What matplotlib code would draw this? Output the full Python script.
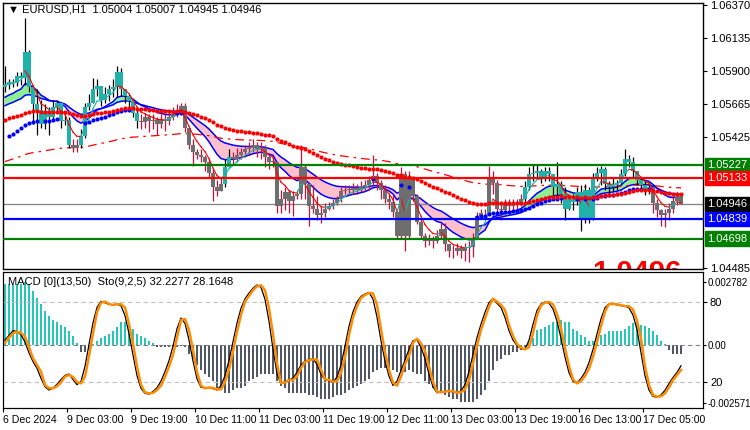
import matplotlib
matplotlib.use("Agg")
import matplotlib.pyplot as plt
import matplotlib.transforms as mtransforms
import numpy as np

plt.rcParams["font.family"] = ["Liberation Sans", "DejaVu Sans"]

# ---- price data (EURUSD H1) ----
closes = [1.0580, 1.0582, 1.0581, 1.0586, 1.0585, 1.0603, 1.0578, 1.0566, 1.0562, 1.0552,
          1.0561, 1.0557, 1.0564, 1.0567, 1.0554, 1.0555, 1.0537, 1.0535, 1.0537, 1.0543,
          1.0564, 1.0567, 1.0577, 1.0579, 1.0569, 1.0573, 1.0577, 1.0578, 1.0589, 1.0577,
          1.0572, 1.0568, 1.0560, 1.0554, 1.0553, 1.0557, 1.0554, 1.0555, 1.0552, 1.0555,
          1.0554, 1.0557, 1.0559, 1.0562, 1.0565, 1.0549, 1.0537, 1.0532, 1.0530, 1.0528,
          1.0525, 1.0517, 1.0507, 1.0504, 1.0509, 1.0521, 1.0528, 1.0527, 1.0530, 1.0532,
          1.0534, 1.0535, 1.0537, 1.0534, 1.0535, 1.0528, 1.0525, 1.0525, 1.0493, 1.0498,
          1.0503, 1.0497, 1.0500, 1.0502, 1.0521, 1.0509, 1.0493, 1.0491, 1.0487, 1.0488,
          1.0491, 1.0493, 1.0495, 1.0498, 1.0504, 1.0505, 1.0505, 1.0506, 1.0505, 1.0507,
          1.0508, 1.0512, 1.0515, 1.0510, 1.0505, 1.0498, 1.0496, 1.0489, 1.0472, 1.0516,
          1.0472, 1.0513, 1.0500, 1.0482, 1.0472, 1.0468, 1.0469, 1.0468, 1.0472, 1.0477,
          1.0466, 1.0461, 1.0461, 1.0463, 1.0461, 1.0463, 1.0464, 1.0470, 1.0486, 1.0488,
          1.0488, 1.0514, 1.0510, 1.0491, 1.0490, 1.0495, 1.0493, 1.0494, 1.0495, 1.0498,
          1.0507, 1.0516, 1.0517, 1.0518, 1.0514, 1.0518, 1.0516, 1.0507, 1.0509, 1.0502,
          1.0491, 1.0498, 1.0496, 1.0503, 1.0484, 1.0505, 1.0483, 1.0514, 1.0517, 1.0520,
          1.0509, 1.0507, 1.0508, 1.0510, 1.0516, 1.0527, 1.0525, 1.0518, 1.0512, 1.0508,
          1.0505, 1.0507, 1.0495, 1.0490, 1.0487, 1.0488, 1.0491, 1.0497, 1.05004, 1.04946]
highs = [1.0593, 1.0584, 1.0584, 1.0589, 1.0589, 1.0628, 1.0605, 1.0580, 1.0577, 1.0569,
         1.0566, 1.0564, 1.0569, 1.0569, 1.0566, 1.0561, 1.0557, 1.0541, 1.0541, 1.0548,
         1.0567, 1.0573, 1.0585, 1.0584, 1.0579, 1.0578, 1.0580, 1.0584, 1.0593, 1.0592,
         1.0575, 1.0573, 1.0569, 1.0562, 1.0559, 1.0560, 1.0559, 1.0559, 1.0557, 1.0559,
         1.0559, 1.0561, 1.0564, 1.0566, 1.0567, 1.0567, 1.0549, 1.0541, 1.0534, 1.0534,
         1.0530, 1.0527, 1.0520, 1.0512, 1.0514, 1.0527, 1.0534, 1.0532, 1.0535, 1.0535,
         1.0537, 1.0539, 1.0541, 1.0539, 1.0539, 1.0537, 1.0530, 1.0528, 1.0525, 1.0505,
         1.0507, 1.0505, 1.0504, 1.0505, 1.0537, 1.0523, 1.0509, 1.0508, 1.0500, 1.0493,
         1.0495, 1.0496, 1.0498, 1.0500, 1.0507, 1.0508, 1.0508, 1.0510, 1.0509, 1.0511,
         1.0512, 1.0515, 1.0530, 1.0517, 1.0512, 1.0508, 1.0502, 1.0502, 1.0491, 1.0521,
         1.0518, 1.0518, 1.0514, 1.0502, 1.0484, 1.0474, 1.0473, 1.0472, 1.0476, 1.0481,
         1.0481, 1.0466, 1.0465, 1.0467, 1.0465, 1.0467, 1.0468, 1.0474, 1.0489, 1.0491,
         1.0491, 1.0522, 1.0518, 1.0512, 1.0495, 1.0498, 1.0498, 1.0498, 1.0498, 1.0502,
         1.0511, 1.0521, 1.0523, 1.0523, 1.0520, 1.0521, 1.0521, 1.0516, 1.0525, 1.0511,
         1.0507, 1.0501, 1.0502, 1.0507, 1.0508, 1.0509, 1.0507, 1.0517, 1.0521, 1.0522,
         1.0521, 1.0511, 1.0514, 1.0512, 1.0520, 1.0534, 1.0530, 1.0528, 1.0518, 1.0514,
         1.0511, 1.0510, 1.0505, 1.0498, 1.0491, 1.0491, 1.0495, 1.0500, 1.0503, 1.05007]
lows = [1.0575, 1.0577, 1.0578, 1.0579, 1.0580, 1.0580, 1.0575, 1.0552, 1.0544, 1.0549,
        1.0548, 1.0544, 1.0555, 1.0561, 1.0549, 1.0551, 1.0535, 1.0532, 1.0532, 1.0535,
        1.0542, 1.0562, 1.0569, 1.0572, 1.0565, 1.0567, 1.0568, 1.0571, 1.0571, 1.0572,
        1.0567, 1.0564, 1.0557, 1.0549, 1.0548, 1.0549, 1.0546, 1.0548, 1.0544, 1.0549,
        1.0547, 1.0551, 1.0555, 1.0557, 1.0561, 1.0546, 1.0534, 1.0522, 1.0527, 1.0525,
        1.0518, 1.0514, 1.0497, 1.0500, 1.0505, 1.0507, 1.0523, 1.0523, 1.0525, 1.0527,
        1.0528, 1.0530, 1.0532, 1.0528, 1.0527, 1.0521, 1.0520, 1.0521, 1.0488, 1.0488,
        1.0490, 1.0488, 1.0486, 1.0498, 1.0498, 1.0498, 1.0479, 1.0488, 1.0483, 1.0481,
        1.0485, 1.0490, 1.0491, 1.0494, 1.0496, 1.0502, 1.0501, 1.0502, 1.0502, 1.0503,
        1.0504, 1.0505, 1.0508, 1.0505, 1.0498, 1.0495, 1.0491, 1.0485, 1.0470, 1.0470,
        1.0461, 1.0470, 1.0497, 1.0480, 1.0470, 1.0464, 1.0465, 1.0463, 1.0467, 1.0470,
        1.0461, 1.0457, 1.0456, 1.0458, 1.0456, 1.0454, 1.0453, 1.0457, 1.0471, 1.0484,
        1.0484, 1.0487, 1.0502, 1.0488, 1.0483, 1.0488, 1.0488, 1.0490, 1.0491, 1.0493,
        1.0495, 1.0505, 1.0511, 1.0514, 1.0510, 1.0511, 1.0511, 1.0500, 1.0500, 1.0495,
        1.0483, 1.0490, 1.0490, 1.0494, 1.0475, 1.0481, 1.0481, 1.0483, 1.0511, 1.0508,
        1.0505, 1.0502, 1.0504, 1.0505, 1.0509, 1.0515, 1.0521, 1.0514, 1.0508, 1.0505,
        1.0501, 1.0502, 1.0488, 1.0485, 1.0479, 1.0478, 1.0483, 1.0488, 1.0494, 1.04945]
first_open = 1.0578
# u = teal (trend up) candle, d = grey candle
trend = ("u" * 17 + "d" * 2 + "u" * 15 + "d" * 21 + "u" * 2 +
         "d" * 73 + "u" * 32 + "d" * 8)

# start values of the overlays at the left edge of the chart
seed_fast = 1.0580
seed_band_fast = 1.0571
seed_band_slow = 1.0565
seed_blue = 1.0541
seed_red = 1.0555
seed_long = 1.0525

levels = [1.05227, 1.05133, 1.04839, 1.04698]
level_colors = ["#008000", "#FF0000", "#0000FF", "#008000"]
last_price = 1.04946
price_ticks = [1.06370, 1.06135, 1.05900, 1.05665, 1.05425, 1.04485]
big_label = "1.0496"

time_labels = ["6 Dec 2024", "9 Dec 03:00", "9 Dec 19:00", "10 Dec 11:00",
               "11 Dec 03:00", "11 Dec 19:00", "12 Dec 11:00", "13 Dec 03:00",
               "13 Dec 19:00", "16 Dec 13:00", "17 Dec 05:00"]

macd_hist = [0.0027, 0.0027, 0.0027, 0.0027, 0.0027, 0.0028, 0.0027, 0.0024, 0.0021, 0.0018,
             0.0015, 0.0013, 0.0011, 0.0010, 0.0009, 0.0008, 0.0006, 0.0004, 0.0001, -0.0003,
             -0.0003, -0.0002, 0.00003, 0.0002, 0.0003, 0.0004, 0.0005, 0.0006, 0.0008, 0.0010,
             0.0010, 0.0009, 0.0007, 0.0005, 0.0004, 0.0003, 0.0002, 0.0001, -0.0001, -0.0001,
             -0.0001, -0.0001, -0.0001, -0.0001, -0.00005, -0.0001, -0.0004, -0.0006, -0.0009, -0.0011,
             -0.0013, -0.0014, -0.0016, -0.0019, -0.0020, -0.0021, -0.0021, -0.0020, -0.0019, -0.0019,
             -0.0018, -0.0016, -0.0015, -0.0014, -0.0013, -0.0013, -0.0013, -0.0013, -0.0016, -0.0018,
             -0.0019, -0.0021, -0.0021, -0.0021, -0.0021, -0.0021, -0.0022, -0.0022, -0.0023, -0.0024,
             -0.0024, -0.0024, -0.0023, -0.0022, -0.0022, -0.0021, -0.0020, -0.0019, -0.0018, -0.0017,
             -0.0016, -0.0015, -0.0012, -0.0011, -0.0010, -0.0010, -0.0010, -0.0011, -0.0012, -0.0012,
             -0.0012, -0.0011, -0.0012, -0.0013, -0.0013, -0.0016, -0.0017, -0.0019, -0.0020, -0.0021,
             -0.0022, -0.0023, -0.0024, -0.0024, -0.0025, -0.0025, -0.0025, -0.0025, -0.0024, -0.0022,
             -0.0020, -0.0016, -0.0011, -0.0007, -0.0006, -0.00045, -0.00044, -0.0003, -0.0003, -0.0002,
             -0.0001, 0.0001, 0.0003, 0.00066, 0.0007, 0.0008, 0.0009, 0.0010, 0.0010, 0.0011,
             0.0010, 0.0010, 0.0007, 0.0006, 0.00044, 0.00037, 0.0002, 0.0002, 0.0003, 0.00044,
             0.0005, 0.0006, 0.0006, 0.0006, 0.00063, 0.0007, 0.00084, 0.00096, 0.0010, 0.0009,
             0.00084, 0.00074, 0.0006, 0.00044, 0.0002, 0.00005, -0.0002, -0.0004, -0.0004, -0.0004]

sto_main = [51.4, 54.9, 58.5, 58, 55.4, 50, 41.9, 35.3, 30.3, 22.8, 16.5, 14, 15.5, 18.3, 21.9,
            25, 26, 21.9, 18, 20.5, 31.8, 48, 64.4, 75.9, 80.5, 79.4, 78.2, 78, 78.3, 77.2,
            69.8, 56.3, 40.3, 24.8, 15.2, 11.5, 11, 12.9, 15.7, 20.7, 27.8, 36, 46.9, 60, 68,
            64, 51.5, 35.8, 22.4, 16, 15.7, 15.8, 15, 14, 17.3, 24.8, 36.2, 50.3, 64.1, 75.3,
            82.4, 86.7, 90.3, 92.8, 91, 82, 65.6, 44.8, 26.4, 18.5, 20.6, 21.4, 22.9, 27.4,
            32.8, 35.7, 36.7, 37.5, 33.2, 25.7, 21.8, 20.9, 19.8, 23.8, 32.8, 46.9, 61.8, 72.7,
            80, 84.2, 86, 87.2, 82.2, 68.7, 50.9, 35.8, 24.4, 17.4, 20.7, 28.7, 36.4, 44.5, 51,
            51.5, 46.2, 37.4, 25.8, 16.4, 12, 12.3, 13, 13.2, 12.5, 11.8, 13.4, 18, 27.8, 40.8,
            53.3, 63.4, 72.2, 79.5, 82.5, 79, 75.9, 68.3, 58.5, 51.5, 47.2, 45.2, 44.5, 51.3,
            63.2, 73.7, 78.5, 80, 79.2, 74.7, 65.7, 52.8, 38.7, 27, 20.5, 19.3, 22.7, 27.3,
            34.5, 44.5, 56, 67.4, 75.7, 78.7, 78.4, 77.9, 77.3, 76.9, 75.6, 70.2, 59.4, 42.2,
            24.7, 14, 9.2, 8.6, 10.4, 13.8, 18.8, 23.4, 27.2, 32.2]
sto_signal = [49.5, 53.3, 56.5, 57.8, 56.8, 54, 46, 37.8, 32.8, 27.8, 17.8, 15.3, 15.3, 16.8, 19.8,
              24, 25.3, 23.8, 20, 19, 24, 39.5, 56.5, 72.3, 79.5, 80.3, 78.5, 77.8, 78.3, 78.3,
              76, 63.5, 49, 31.5, 18, 12.3, 11.5, 11.8, 14, 17.3, 24, 31.5, 40.5, 53.3, 66.5,
              67.3, 59, 44, 27.5, 17.3, 15.3, 16, 15.5, 14.5, 14.5, 20, 29.5, 42.8, 57.8, 70.3,
              80.3, 84.5, 88.8, 91.8, 92.5, 88.8, 75.3, 55.8, 33.8, 19, 19.8, 21.3, 21.5, 24.3,
              30.5, 35, 36.3, 37, 37, 29.3, 22, 21.5, 20.3, 20.5, 27, 38.5, 55.3, 68.3, 77, 83,
              85.3, 86.8, 86.5, 77.8, 59.5, 42.3, 29.3, 19.5, 17.3, 24, 33.3, 39.5, 49.5, 52.5,
              49, 43.3, 31.5, 20, 12.8, 12.3, 12.8, 13.3, 13, 12, 12.3, 14.5, 21.5, 34, 47.5,
              59, 67.8, 76.5, 82.5, 80.3, 77.8, 74, 62.5, 54.5, 48.5, 45.8, 44.5, 46, 56.5,
              69.8, 77.5, 79.5, 80, 78.3, 71, 60.3, 45.3, 32, 22, 19, 20.8, 24.5, 30, 39, 50,
              62, 72.8, 78.5, 78.5, 78.3, 77.5, 77, 76.8, 74.3, 66, 52.8, 31.5, 17.8, 10.3, 9,
              9.3, 11.5, 16, 21.5, 25.3, 29]


def ema(values, period, seed):
    k = 2.0 / (period + 1)
    out = [seed]
    for v in values[1:]:
        out.append(out[-1] + k * (v - out[-1]))
    return np.array(out)


n = len(closes)
x = np.arange(n)
c = np.array(closes)
o = np.array([first_open] + closes[:-1])
h = np.array(highs)
l = np.array(lows)

fast = ema(closes, 5, seed_fast)
band_fast = ema(closes, 13, seed_band_fast)
band_slow = ema(closes, 26, seed_band_slow)
blue_ma = ema(closes, 40, seed_blue)
red_ma = ema(closes, 60, seed_red)
long_ma = ema(closes, 120, seed_long)

TEAL = "#20B2AA"
GREY = "#6E6E6E"
WICK_RED = "#C8103A"
FS = 8

fig = plt.figure(figsize=(7.5, 4.3), dpi=100)
ax = fig.add_axes([3 / 750, 1 - 268.5 / 430, 700 / 750, 265.8 / 430])
ax2 = fig.add_axes([3 / 750, 1 - 407.7 / 430, 700 / 750, 135.7 / 430])

# band between the two EMAs
ax.fill_between(x, band_fast, band_slow, where=band_fast <= band_slow,
                color="#FFC0CB", interpolate=True, lw=0, zorder=1)
ax.fill_between(x, band_fast, band_slow, where=band_fast > band_slow,
                color="#90EE90", interpolate=True, lw=0, zorder=1)
ax.plot(x, band_fast, color="#0000FF", lw=1.1, zorder=2)
ax.plot(x, band_slow, color="#0000FF", lw=1.1, zorder=2)

# long dash-dot average
ax.plot(x, long_ma, color="#FF0000", lw=0.9, dashes=(7, 4, 2, 4), zorder=2)

# candles
for i in range(n):
    up = trend[i] == "u"
    body_lo = min(o[i], c[i])
    body_hi = max(o[i], c[i])
    ax.vlines(i, min(l[i], body_lo), max(h[i], body_hi),
              color="black" if up else WICK_RED, lw=0.9, zorder=3)
    ax.bar(i, max(body_hi - body_lo, 0.00002), bottom=body_lo, width=0.8,
           color=TEAL if up else GREY, lw=0, zorder=3)

# fast line, teal while rising and red while falling
for i in range(1, n):
    col = TEAL if fast[i] >= fast[i - 1] else "#FF0000"
    ax.plot([i - 1, i], [fast[i - 1], fast[i]], color=col, lw=0.8, zorder=4)

# dotted averages
rising = np.r_[False, np.diff(blue_ma) > 0]
ax.plot(x[rising], blue_ma[rising], "o", ms=3.0, color="#0000FF", mew=0, zorder=5)
ax.plot(x, red_ma, "o", ms=3.0, color="#FF0000", mew=0, zorder=5)

# horizontal levels
for lev, col in zip(levels, level_colors):
    ax.axhline(lev, color=col, lw=1.6, zorder=6)
ax.axhline(last_price, color="#808080", lw=0.9, zorder=2)

# big red price text, mostly hidden under the lower panel
ax.text(146.8, 1.04398, big_label, fontsize=21, fontweight="bold", color="#FF0000",
        ha="left", va="baseline", clip_on=True, zorder=2)

ax.set_xlim(-0.5, 174.5)
ax.set_ylim(1.04494, 1.06386)
ax.set_xticks([])
ax.yaxis.tick_right()
ax.set_yticks(price_ticks)
ax.set_yticklabels(["%.5f" % p for p in price_ticks])
ax.tick_params(axis="y", labelsize=FS, length=3, pad=2, colors="black")
for s in ax.spines.values():
    s.set_linewidth(1.0)

trans = mtransforms.blended_transform_factory(ax.transAxes, ax.transData)
box_colors = level_colors[:2] + ["#000000"] + level_colors[2:]
box_values = levels[:2] + [last_price] + levels[2:]
for val, col in zip(box_values, box_colors):
    ax.text(1.006, val, "%.5f" % val, transform=trans, fontsize=FS, color="white",
            va="center", ha="left", clip_on=False,
            bbox=dict(boxstyle="square,pad=0.2", fc=col, ec=col))

ax.text(0.007, 0.975, "\u25BC EURUSD,H1  1.05004 1.05007 1.04945 1.04946",
        transform=ax.transAxes, fontsize=FS, va="center", ha="left")

# ---- lower panel: MACD histogram + stochastic ----
hist = np.array(macd_hist)
ax2.bar(x, hist, width=0.65, color=np.where(hist >= 0, "#26C6B8", "#4F5864"), lw=0)
ax2.axhline(0, color="#808080", lw=0.8, dashes=(4, 3))
ax2.set_xlim(-0.5, 174.5)
ax2.set_ylim(-0.00277, 0.00323)

ax3 = ax2.twinx()
ax3.set_ylim(0.75, 102.5)
ax3.axhline(80, color="#C0C0C0", lw=0.8, dashes=(4, 3))
ax3.axhline(20, color="#C0C0C0", lw=0.8, dashes=(4, 3))
ax3.plot(x, sto_main, color="black", lw=0.9)
ax3.plot(x, sto_signal, color="#FF8C00", lw=1.8)
ax3.set_yticks([80, 20])
ax3.set_yticklabels(["80", "20"])
ax3.tick_params(axis="y", labelsize=FS, length=3, pad=2)

ax2.yaxis.tick_right()
ax2.set_yticks([0.002782, 0.0, -0.002571])
ax2.set_yticklabels(["0.002782", "0.00", "-0.002571"])
ax2.tick_params(axis="y", labelsize=7.0, length=2, pad=1)

ticks = [16 * k - 0.5 for k in range(len(time_labels))]
ax2.set_xticks(ticks)
ax2.set_xticklabels(time_labels, ha="left")
ax2.tick_params(axis="x", labelsize=7.6, length=3, pad=2)

ax3.text(0.007, 0.925, "MACD [0](13,50)  Sto(9,2,5) 32.2277 28.1648",
         transform=ax3.transAxes, fontsize=FS, va="center", ha="left", zorder=10)

fig.savefig("out.png", dpi=100)
